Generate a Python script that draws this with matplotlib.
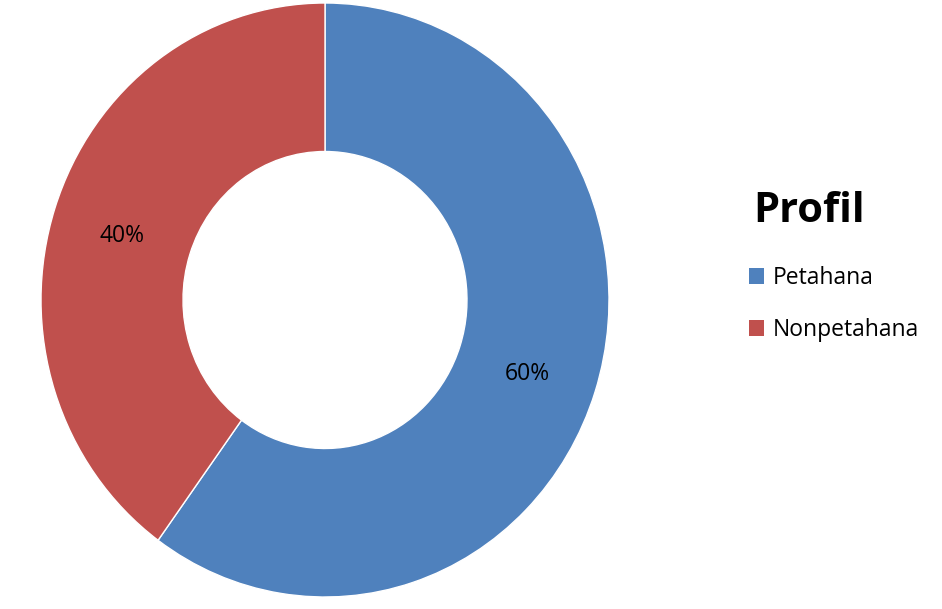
import matplotlib
matplotlib.use("Agg")
import matplotlib.pyplot as plt
import matplotlib.transforms as mtransforms
from matplotlib.patches import Patch

categories = ["Petahana", "Nonpetahana"]
values = [60, 40]
colors = ["#4F81BD", "#C0504D"]
legend_title = "Profil"

plt.rcParams['font.family'] = ['Open Sans', 'DejaVu Sans']

fig = plt.figure(figsize=(9.42, 6.09), dpi=100)
W, H = 942, 609
cx, cy, RX, RY = 325, 300, 284, 297
ax = fig.add_axes([(cx - RX) / W, (H - cy - RY) / H, 2 * RX / W, 2 * RY / H])

wedges, texts, autotexts = ax.pie(
    values, colors=colors, startangle=90, counterclock=False,
    radius=1.0, autopct=lambda p: f"{p:.0f}%", pctdistance=0.75,
    wedgeprops=dict(width=0.5, edgecolor="white", linewidth=1),
    textprops=dict(fontsize=16.5, color="black"))
shift = mtransforms.ScaledTranslation(0, -5 / 100, fig.dpi_scale_trans)
for t in autotexts:
    t.set_transform(t.get_transform() + shift)
ax.set_xlim(-1, 1)
ax.set_ylim(-1, 1)
ax.set_aspect("auto")
ax.axis("off")

handles = [Patch(facecolor=c, edgecolor="none") for c in colors]
leg = fig.legend(handles, categories, title=legend_title,
                 loc="upper left", bbox_to_anchor=(728 / W, 1 - 170 / H),
                 frameon=False, fontsize=16.5, handlelength=0.66, handleheight=0.7,
                 handletextpad=0.38, labelspacing=1.2, alignment="left",
                 title_fontproperties=dict(size=30, weight="bold"))
leg._legend_box.sep = 25
leg.get_title().set_position((5, 0))

fig.savefig("out.png", dpi=100, facecolor="white")
